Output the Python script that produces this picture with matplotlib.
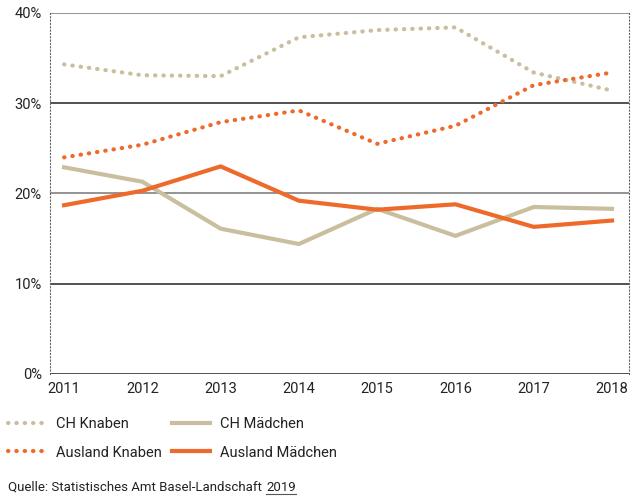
import matplotlib.pyplot as plt

plt.rcParams['font.family'] = ['Roboto', 'DejaVu Sans']

# years and shares (%)
years = [2011, 2012, 2013, 2014, 2015, 2016, 2017, 2018]
ch_knaben = [34.3, 33.1, 33.0, 37.3, 38.1, 38.4, 33.4, 31.4]
ch_maedchen = [22.9, 21.3, 16.1, 14.4, 18.3, 15.3, 18.5, 18.3]
ausland_knaben = [24.0, 25.4, 27.9, 29.2, 25.5, 27.5, 32.0, 33.4]
ausland_maedchen = [18.7, 20.3, 23.0, 19.2, 18.2, 18.8, 16.3, 17.0]
y_ticks = [0, 10, 20, 30, 40]

beige = '#c9bf9f'
orange = '#ee6a2a'

fig = plt.figure(figsize=(6.33, 4.98), dpi=100)
ax = fig.add_axes([0.079, 0.249, 0.915, 0.725])

# horizontal grid lines
for v in y_ticks:
    c = '#777777' if v in (20, 40) else '#222222'
    ax.axhline(v, color=c, lw=1.1, zorder=1)

l1, = ax.plot(years, ch_knaben, color=beige, lw=3, ls=(0, (0.1, 1.9)),
              dash_capstyle='round', label='CH Knaben', zorder=3)
l2, = ax.plot(years, ch_maedchen, color=beige, lw=3, label='CH Mädchen', zorder=3)
l3, = ax.plot(years, ausland_knaben, color=orange, lw=3, ls=(0, (0.1, 1.9)),
              dash_capstyle='round', label='Ausland Knaben', zorder=3)
l4, = ax.plot(years, ausland_maedchen, color=orange, lw=3, label='Ausland Mädchen', zorder=3)

ax.set_xlim(2010.82, 2018.22)
ax.set_ylim(0, 40)
ax.set_yticks(y_ticks)
ax.set_yticklabels([f'{v}%' for v in y_ticks])
ax.set_xticks(years)
ax.tick_params(length=0, labelsize=10.5, colors='#222222', pad=6)

for s in ['top', 'bottom']:
    ax.spines[s].set_visible(False)
for s in ['left', 'right']:
    ax.spines[s].set_linestyle((0, (1, 2)))
    ax.spines[s].set_color('#666666')
    ax.spines[s].set_linewidth(0.8)

# legend in two separate columns
leg_kw = dict(loc='upper left', frameon=False, fontsize=10.5, borderaxespad=0,
              borderpad=0, handlelength=2.6, handletextpad=0.7,
              labelspacing=1.0, labelcolor='#222222')
fig.legend(handles=[l1, l3], bbox_to_anchor=(8 / 633, 1 - 417 / 498), **leg_kw)
fig.legend(handles=[l2, l4], bbox_to_anchor=(172 / 633, 1 - 417 / 498), **leg_kw)

src = fig.text(0.013, 0.014, 'Quelle: Statistisches Amt Basel-Landschaft', fontsize=9.5,
               color='#222222')
fig.canvas.draw()
bb = src.get_window_extent()
x0 = (bb.x1 + 4) / 633
yr = fig.text(x0, 0.014, '2019', fontsize=9.5, color='#222222')
bb2 = yr.get_window_extent()
fig.add_artist(plt.Line2D([x0, bb2.x1 / 633], [0.008, 0.008], color='#555555', lw=0.8))

fig.savefig('out.png', dpi=100)
